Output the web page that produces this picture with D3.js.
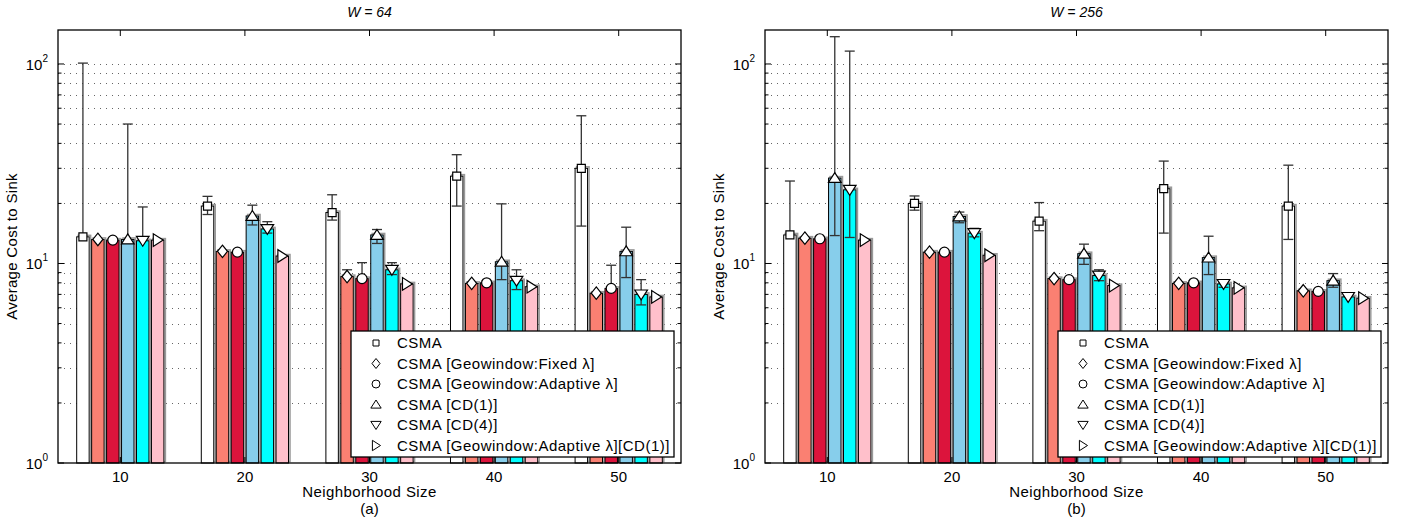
<!DOCTYPE html>
<html>
<head>
<meta charset="utf-8">
<script src="https://cdn.jsdelivr.net/npm/d3@7"></script>
<style>
body { margin: 0; background: #fff; }
text { font-family: "Liberation Sans", Arial, sans-serif; }
</style>
</head>
<body>
<div id="chart"></div>
<script>
var width = 1406, height = 526;

var categories = [10, 20, 30, 40, 50];
var seriesNames = [
    "CSMA",
    "CSMA [Geowindow:Fixed \u03bb]",
    "CSMA [Geowindow:Adaptive \u03bb]",
    "CSMA [CD(1)]",
    "CSMA [CD(4)]",
    "CSMA [Geowindow:Adaptive \u03bb][CD(1)]"
];
var seriesColors = ["#ffffff", "#fa8072", "#dc143c", "#87ceeb", "#00ffff", "#ffc0cb"];
var seriesMarkers = ["square", "diamond", "circle", "up", "down", "right"];
var yTicks = [1, 10, 100];

// W = 64, one row per series, one value per neighborhood size
var meansW64 = [
    [13.6, 19.4, 18.0, 27.4, 30.0],
    [13.2, 11.5, 8.6, 7.95, 7.1],
    [13.1, 11.4, 8.4, 8.0, 7.5],
    [13.2, 17.3, 13.9, 10.2, 11.5],
    [13.0, 14.9, 9.3, 8.2, 7.0],
    [13.1, 10.9, 7.9, 7.65, 6.8]
];
var errHighW64 = [
    [101, 21.7, 22.1, 35.1, 55],
    [null, null, 9.3, null, null],
    [null, null, 10.1, null, 9.8],
    [50, 19.6, 14.8, 19.9, 15.2],
    [19.2, 16.2, 10.1, 9.3, 8.3],
    [null, null, null, null, null]
];
var errLowW64 = [
    [null, 17.6, 16.5, 19.4, 15.4],
    [null, null, null, null, null],
    [null, null, null, null, null],
    [null, 15.6, 12.6, 8.3, 8.5],
    [null, 14.2, 8.8, 7.4, 6.2],
    [null, null, null, null, null]
];

// W = 256
var meansW256 = [
    [13.9, 20.0, 16.3, 23.7, 19.4],
    [13.4, 11.4, 8.4, 7.95, 7.3],
    [13.3, 11.4, 8.3, 8.0, 7.25],
    [26.8, 17.2, 11.2, 10.7, 8.2],
    [23.4, 14.2, 8.7, 7.9, 6.8],
    [13.1, 11.0, 7.75, 7.55, 6.7]
];
var errHighW256 = [
    [25.9, 21.8, 20.2, 32.6, 31.1],
    [null, null, null, null, null],
    [null, null, null, null, null],
    [137, 18.1, 12.5, 13.7, 8.9],
    [116, 15.0, 9.3, 8.2, null],
    [null, null, null, null, null]
];
var errLowW256 = [
    [null, 18.5, 14.6, 14.2, 13.2],
    [null, null, null, null, null],
    [null, null, null, null, null],
    [13.8, 16.0, 9.9, 8.8, 7.6],
    [13.5, 13.6, 8.2, 7.6, null],
    [null, null, null, null, null]
];

var panels = [
    {left: 58, right: 681, title: "64", sub: "(a)", means: meansW64, hi: errHighW64, lo: errLowW64},
    {left: 765, right: 1388, title: "256", sub: "(b)", means: meansW256, hi: errHighW256, lo: errLowW256}
];

var plotTop = 30, plotBottom = 463;

var svg = d3.select("#chart").append("svg")
    .attr("width", width)
    .attr("height", height);

function markerPath(type, s) {
    // s = half size
    var p = d3.path();
    if (type == "square") {
        p.rect(-s, -s, 2 * s, 2 * s);
    } else if (type == "diamond") {
        p.moveTo(0, -s * 1.25); p.lineTo(s, 0); p.lineTo(0, s * 1.25); p.lineTo(-s, 0); p.closePath();
    } else if (type == "circle") {
        p.arc(0, 0, s, 0, 2 * Math.PI);
    } else if (type == "up") {
        p.moveTo(0, -s); p.lineTo(s * 1.15, s * 0.8); p.lineTo(-s * 1.15, s * 0.8); p.closePath();
    } else if (type == "down") {
        p.moveTo(0, s); p.lineTo(s * 1.15, -s * 0.8); p.lineTo(-s * 1.15, -s * 0.8); p.closePath();
    } else {
        p.moveTo(s, 0); p.lineTo(-s * 0.8, -s * 1.15); p.lineTo(-s * 0.8, s * 1.15); p.closePath();
    }
    return p.toString();
}

var markerSize = [4, 5, 5, 5.5, 5.5, 5.5];

panels.forEach(function(pn) {
    var x = d3.scaleLinear().domain([5, 55]).range([pn.left, pn.right]);
    var y = d3.scaleLog().domain([1, 148]).range([plotBottom, plotTop]);
    var g = svg.append("g");
    var barW = x(1) - x(0);

    // dotted y grid at every decade step
    var gridVals = [];
    [1, 10, 100].forEach(function(d) {
        for (var k = 1; k <= 9; k++) {
            var v = d * k;
            if (v > 1 && v <= 148) gridVals.push(v);
        }
    });

    g.selectAll(".grid").data(gridVals).enter().append("line")
        .attr("x1", pn.left).attr("x2", pn.right)
        .attr("y1", d => Math.round(y(d)) + 0.5).attr("y2", d => Math.round(y(d)) + 0.5)
        .attr("stroke", "#666").attr("stroke-width", 1)
        .attr("stroke-dasharray", "1,5");

    // bars
    var bars = [];
    pn.means.forEach(function(row, si) {
        row.forEach(function(v, ci) {
            bars.push({s: si, c: ci, v: v, hi: pn.hi[si][ci], lo: pn.lo[si][ci],
                cx: x(categories[ci] + (si - 2.5) * 1.2)});
        });
    });

    var bg = g.selectAll(".bar").data(bars).enter().append("g");
    bg.append("rect")
        .attr("x", d => d.cx - barW / 2 + 1.5)
        .attr("y", d => y(d.v) - 1.5)
        .attr("width", barW)
        .attr("height", d => plotBottom - y(d.v))
        .attr("fill", "none").attr("stroke", "#999").attr("stroke-width", 1.5);
    bg.append("rect")
        .attr("x", d => d.cx - barW / 2)
        .attr("y", d => y(d.v))
        .attr("width", barW)
        .attr("height", d => plotBottom - y(d.v))
        .attr("fill", d => seriesColors[d.s])
        .attr("stroke", "#000").attr("stroke-width", 1);

    // error bars
    bars.forEach(function(d) {
        if (d.hi == null && d.lo == null) return;
        var y1 = d.hi != null ? y(d.hi) : y(d.v);
        var y2 = d.lo != null ? y(d.lo) : y(d.v);
        g.append("line").attr("x1", d.cx).attr("x2", d.cx).attr("y1", y1).attr("y2", y2)
            .attr("stroke", "#333").attr("stroke-width", 1.3);
        [d.hi, d.lo].forEach(function(e) {
            if (e == null) return;
            g.append("line").attr("x1", d.cx - 5).attr("x2", d.cx + 5)
                .attr("y1", y(e)).attr("y2", y(e))
                .attr("stroke", "#333").attr("stroke-width", 1.3);
        });
    });

    // markers
    g.selectAll(".mk").data(bars).enter().append("path")
        .attr("transform", d => "translate(" + d.cx + "," + y(d.v) + ")")
        .attr("d", d => markerPath(seriesMarkers[d.s], markerSize[d.s]))
        .attr("fill", "#fff").attr("stroke", "#000").attr("stroke-width", 1.2);

    // box
    g.append("rect").attr("x", pn.left).attr("y", plotTop)
        .attr("width", pn.right - pn.left).attr("height", plotBottom - plotTop)
        .attr("fill", "none").attr("stroke", "#000").attr("stroke-width", 1.3);

    // y ticks (inside, both sides)
    var minorVals = gridVals.filter(d => yTicks.indexOf(d) < 0);
    [pn.left, pn.right].forEach(function(ax, side) {
        var dir = side == 0 ? 1 : -1;
        g.selectAll(null).data(yTicks).enter().append("line")
            .attr("x1", ax).attr("x2", ax + dir * 6)
            .attr("y1", d => y(d)).attr("y2", d => y(d))
            .attr("stroke", "#000");
        g.selectAll(null).data(minorVals).enter().append("line")
            .attr("x1", ax).attr("x2", ax + dir * 3.5)
            .attr("y1", d => y(d)).attr("y2", d => y(d))
            .attr("stroke", "#000");
    });
    // x ticks (inside, top and bottom)
    g.selectAll(null).data(categories).enter().append("line")
        .attr("x1", d => x(d)).attr("x2", d => x(d))
        .attr("y1", plotTop).attr("y2", plotTop + 6).attr("stroke", "#000");
    g.selectAll(null).data(categories).enter().append("line")
        .attr("x1", d => x(d)).attr("x2", d => x(d))
        .attr("y1", plotBottom).attr("y2", plotBottom - 6).attr("stroke", "#000");

    // tick labels
    g.selectAll(null).data(categories).enter().append("text")
        .attr("x", d => x(d)).attr("y", 482)
        .attr("text-anchor", "middle").attr("font-size", 15)
        .text(d => d);
    var yl = g.selectAll(null).data(yTicks).enter().append("text")
        .attr("x", pn.left - 10).attr("y", d => y(d) + 6)
        .attr("text-anchor", "end").attr("font-size", 15);
    yl.append("tspan").text("10");
    yl.append("tspan").attr("dy", -8).attr("font-size", 10)
        .text(d => Math.round(Math.log10(d)));

    // axis titles
    var mid = (pn.left + pn.right) / 2;
    g.append("text").attr("x", mid).attr("y", 497)
        .attr("text-anchor", "middle").attr("font-size", 15).attr("letter-spacing", 0.4)
        .text("Neighborhood Size");
    g.append("text").attr("x", mid).attr("y", 514)
        .attr("text-anchor", "middle").attr("font-size", 15).text(pn.sub);
    g.append("text")
        .attr("transform", "translate(" + (pn.left - 41) + "," + ((plotTop + plotBottom) / 2) + ") rotate(-90)")
        .attr("text-anchor", "middle").attr("font-size", 15).attr("letter-spacing", 0.3)
        .text("Average Cost to Sink");
    var tt = g.append("text").attr("x", mid).attr("y", 17)
        .attr("text-anchor", "middle").attr("font-size", 14).attr("font-style", "italic");
    tt.append("tspan").text("W");
    tt.append("tspan").text(" = " + pn.title);

    // legend
    var lx = pn.right - 330, ly = 331, lw = 323, lh = 126;
    var lg = g.append("g");
    lg.append("rect").attr("x", lx).attr("y", ly).attr("width", lw).attr("height", lh)
        .attr("fill", "#fff").attr("stroke", "#000").attr("stroke-width", 1.3);
    var items = lg.selectAll(null).data(seriesNames).enter().append("g")
        .attr("transform", (d, i) => "translate(" + lx + "," + (ly + 12 + i * 20.5) + ")");
    items.append("path")
        .attr("transform", "translate(25,0)")
        .attr("d", (d, i) => markerPath(seriesMarkers[i], [3, 4, 4, 4.5, 4.5, 4.5][i]))
        .attr("fill", "#fff").attr("stroke", "#000").attr("stroke-width", 1);
    items.append("text").attr("x", 46).attr("y", 5)
        .attr("font-size", 15).attr("letter-spacing", 0.5).text(d => d);
});
</script>
</body>
</html>
